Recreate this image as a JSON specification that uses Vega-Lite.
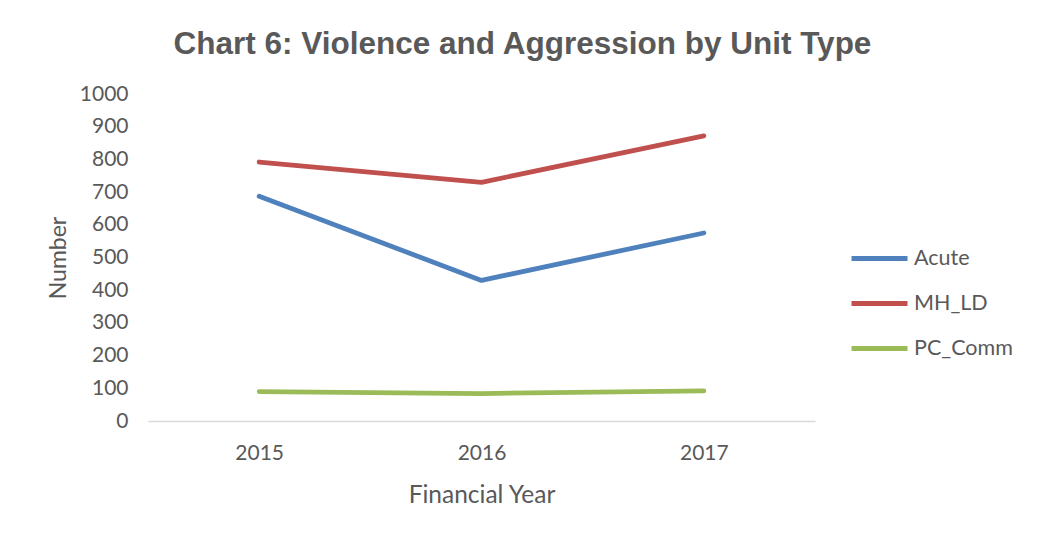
{
  "$schema": "https://vega.github.io/schema/vega-lite/v6.json",
  "autosize": {"type": "none"},
  "width": 667,
  "height": 327,
  "padding": {"left": 148, "top": 94, "right": 225, "bottom": 118},
  "background": "white",
  "title": {
    "text": "Chart 6: Violence and Aggression by Unit Type",
    "font": "Liberation Sans",
    "fontSize": 31.5,
    "fontWeight": "bold",
    "color": "#595959",
    "anchor": "middle",
    "dx": 41,
    "offset": 23
  },
  "data": {
    "values": [
      {"year": "2015", "unit": "Acute", "number": 687},
      {"year": "2016", "unit": "Acute", "number": 430},
      {"year": "2017", "unit": "Acute", "number": 575},
      {"year": "2015", "unit": "MH_LD", "number": 792},
      {"year": "2016", "unit": "MH_LD", "number": 730},
      {"year": "2017", "unit": "MH_LD", "number": 872},
      {"year": "2015", "unit": "PC_Comm", "number": 90},
      {"year": "2016", "unit": "PC_Comm", "number": 84},
      {"year": "2017", "unit": "PC_Comm", "number": 92}
    ]
  },
  "mark": {"type": "line", "strokeWidth": 4.8, "strokeCap": "round", "strokeJoin": "round"},
  "encoding": {
    "x": {
      "field": "year",
      "type": "ordinal",
      "scale": {"type": "point", "padding": 0.5},
      "axis": {
        "title": "Financial Year",
        "labelAngle": 0,
        "ticks": false,
        "grid": false,
        "domain": true,
        "domainColor": "#D9D9D9",
        "domainWidth": 1.5,
        "labelPadding": 21,
        "titlePadding": 20,
        "titleFontSize": 24.5
      }
    },
    "y": {
      "field": "number",
      "type": "quantitative",
      "scale": {"domain": [0, 1000], "nice": false},
      "axis": {
        "title": "Number",
        "format": "d",
        "values": [0, 100, 200, 300, 400, 500, 600, 700, 800, 900, 1000],
        "ticks": false,
        "grid": false,
        "domain": false,
        "labelPadding": 20,
        "titlePadding": 9,
        "titleFontSize": 23
      }
    },
    "color": {
      "field": "unit",
      "type": "nominal",
      "scale": {"domain": ["Acute", "MH_LD", "PC_Comm"], "range": ["#4F81BD", "#C0504D", "#9BBB59"]},
      "legend": {
        "title": null,
        "orient": "none",
        "legendX": 701,
        "legendY": 134,
        "symbolType": "stroke",
        "symbolSize": 3136,
        "symbolStrokeWidth": 4.8,
        "symbolOffset": 0,
        "labelOffset": 4,
        "rowPadding": 4,
        "labelFont": "Lato",
        "labelFontSize": 21.5,
        "labelColor": "#595959"
      }
    }
  },
  "config": {
    "view": {"stroke": null},
    "axis": {
      "labelFont": "Lato",
      "labelFontSize": 21,
      "labelColor": "#595959",
      "titleFont": "Lato",
      "titleFontWeight": "normal",
      "titleColor": "#595959"
    }
  }
}
